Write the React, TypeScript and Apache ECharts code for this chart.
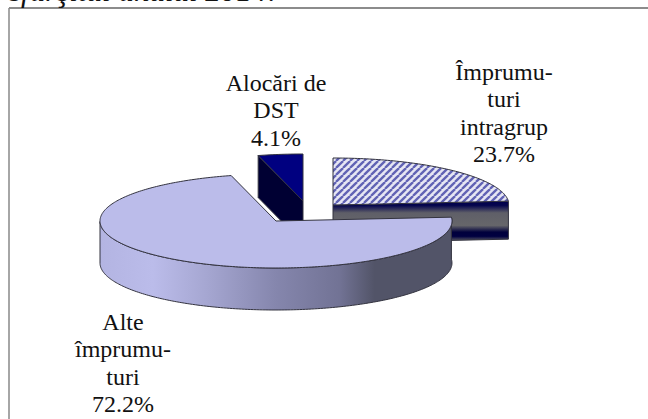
import React, { useEffect, useRef } from "react";
import * as echarts from "echarts";

const categories = ["Împrumu-\nturi\nintragrup", "Alte\nîmprumu-\nturi", "Alocări de\nDST"];
const values = [23.7, 72.2, 4.1];
const titleText = "sfârşitul anului 2014:";

const RX = 176;
const RY = 47;
const depths = [38, 42, 42];
const centers = [
  [333, 205],
  [276, 221],
  [303, 201],
];
const labelPos = [
  [504, 113],
  [123, 363],
  [276, 110],
];
const zOrder = [2, 5, 1];

function makeHatch() {
  const size = 7;
  const c = document.createElement("canvas");
  c.width = size;
  c.height = size;
  const g = c.getContext("2d")!;
  g.fillStyle = "#e6e6f3";
  g.fillRect(0, 0, size, size);
  g.strokeStyle = "#6062b4";
  g.lineWidth = 2.3;
  for (const o of [-size, 0, size]) {
    g.beginPath();
    g.moveTo(o, size);
    g.lineTo(o + size, 0);
    g.stroke();
  }
  return c;
}

const lg = (x2: number, y2: number, stops: [number, string][]) =>
  new echarts.graphic.LinearGradient(0, 0, x2, y2, stops.map(([offset, color]) => ({ offset, color })));

export default function App() {
  const ref = useRef<HTMLDivElement>(null);
  useEffect(() => {
    const chart = echarts.init(ref.current!, null, { renderer: "svg" });
    const hatch = { image: makeHatch(), repeat: "repeat" };
    const outline = "#33333f";
    const topFill: any[] = [hatch, "#bbbcea", "#000080"];
    const bandWall = lg(0, 1, [
      [0, "#00004c"],
      [0.1, "#05054e"],
      [0.28, "#5f5f68"],
      [0.58, "#66666a"],
      [0.74, "#00003c"],
      [0.84, "#000040"],
      [0.94, "#55555f"],
      [1, "#888"],
    ]);
    const outerWall = lg(1, 0, [
      [0, "#b3b4e2"],
      [0.15, "#bbbcea"],
      [0.3, "#a6a7d2"],
      [0.5, "#8586ad"],
      [0.68, "#727395"],
      [0.78, "#525468"],
      [1, "#525468"],
    ]);
    const wallFill: any[] = [bandWall, outerWall, "#000033"];

    const total = values.reduce((a, b) => a + b, 0);
    const pt = (c: number[], deg: number, dy = 0) => {
      const r = (deg * Math.PI) / 180;
      return [c[0] + RX * Math.sin(r), c[1] - RY * Math.cos(r) + dy];
    };

    const renderItem = (params: any) => {
      const i = params.dataIndex;
      const start = (values.slice(0, i).reduce((a, b) => a + b, 0) / total) * 360;
      const end = start + (values[i] / total) * 360;
      const c = centers[i];
      const z = zOrder[i];
      const depth = depths[i];
      const arc: number[][] = [];
      const steps = Math.max(8, Math.round(end - start));
      for (let k = 0; k <= steps; k++) arc.push(pt(c, start + ((end - start) * k) / steps));
      const children: any[] = [];
      const line = { stroke: outline, lineWidth: 1 };
      const cutWall = (deg: number) => ({
        type: "polygon",
        z2: z,
        shape: {
          points: [
            [c[0], c[1]],
            pt(c, deg),
            pt(c, deg, depth),
            [c[0], c[1] + depth],
          ],
        },
        style: { fill: wallFill[i], ...line },
      });
      if (start > 180 && start < 360) children.push(cutWall(start));
      if (end > 0 && end < 180) children.push(cutWall(end));
      const a0 = Math.max(start, 60);
      const a1 = Math.min(end, 270);
      if (a1 > a0 && start < 180 && end > 180) {
        const top: number[][] = [];
        const bottom: number[][] = [];
        for (let d = a0; d <= a1; d += 1) {
          top.push(pt(c, d));
          bottom.unshift(pt(c, d, depth));
        }
        children.push({
          type: "polygon",
          z2: z,
          shape: { points: [...top, ...bottom] },
          style: { fill: wallFill[i], ...line },
        });
      }
      children.push({
        type: "polygon",
        z2: z + 0.5,
        shape: { points: [[c[0], c[1]], ...arc] },
        style: { fill: topFill[i], ...line },
      });
      children.push({
        type: "text",
        z2: 10,
        style: {
          text: `${categories[i]}\n${values[i].toFixed(1)}%`,
          x: labelPos[i][0],
          y: labelPos[i][1],
          align: "center",
          verticalAlign: "middle",
          font: '24px "Liberation Serif"',
          lineHeight: 27.5,
          fill: "#111",
        },
      });
      return { type: "group", children };
    };

    chart.setOption({
      animation: false,
      backgroundColor: "#fff",
      graphic: [
        { type: "line", shape: { x1: 9, y1: 8, x2: 648, y2: 8 }, style: { stroke: "#666", lineWidth: 1.5 } },
        { type: "line", shape: { x1: 9, y1: 8, x2: 9, y2: 419 }, style: { stroke: "#888", lineWidth: 1.5 } },
        {
          type: "text",
          x: 9,
          y: 6,
          style: {
            text: titleText,
            font: 'italic 31px "Liberation Serif"',
            fill: "#111",
            align: "left",
            verticalAlign: "bottom",
          },
        },
      ],
      series: [
        {
          type: "custom",
          coordinateSystem: "none",
          silent: true,
          clip: false,
          data: values,
          renderItem,
        },
      ],
    });
    return () => chart.dispose();
  }, []);
  return <div ref={ref} style={{ position: "fixed", left: 0, top: 0, width: 648, height: 419 }} />;
}
